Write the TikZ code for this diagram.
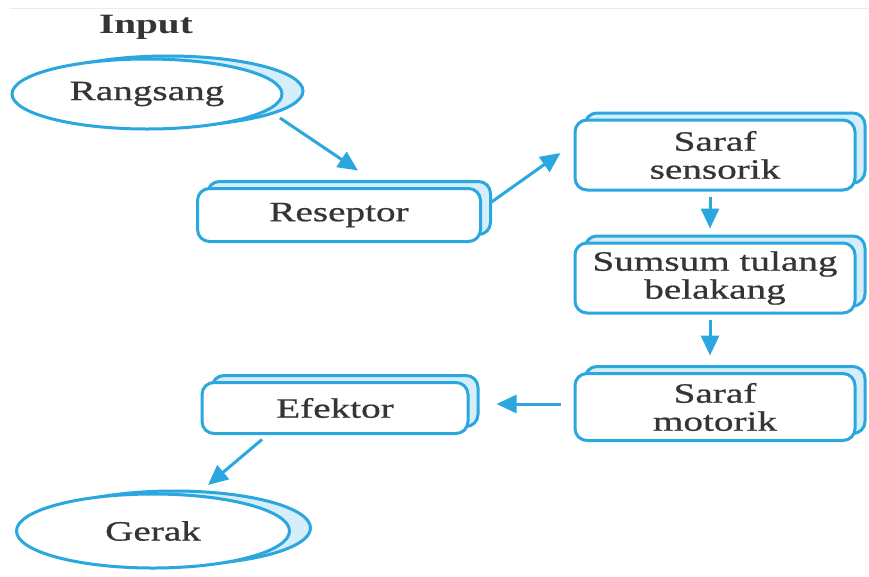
\documentclass[tikz,border=0pt]{standalone}
\usepackage{fontspec}
\setmainfont[FakeStretch=1.4, UprightFeatures={FakeBold=0.7}]{Liberation Serif}
\usetikzlibrary{shapes.geometric,shadows,arrows.meta,calc}
\definecolor{cyanb}{HTML}{2AA7DE}
\definecolor{lightb}{HTML}{D6EEF9}
\definecolor{txt}{HTML}{353535}
\begin{document}
\begin{tikzpicture}[x=1pt,y=-1pt,
  every node/.style={text=txt, font=\fontsize{28}{28}\selectfont},
  boxs/.style={draw=cyanb, line width=3pt, fill=white, rounded corners=12pt, align=center, inner sep=0pt,
    copy shadow={shadow xshift=10pt, shadow yshift=7pt, fill=lightb, draw=cyanb, line width=3pt}},
  ell/.style={ellipse, draw=cyanb, line width=3pt, fill=white, inner sep=0pt,
    copy shadow={shadow xshift=21pt, shadow yshift=3pt, fill=lightb, draw=cyanb, line width=3pt}},
  arr/.style={draw=cyanb, line width=3pt, -{Triangle[length=20pt,width=18pt]}}]
\useasboundingbox (0,0) rectangle (869,576);
\fill[white] (0,0) rectangle (869,576);
\draw[black!8, line width=1pt] (10,8) -- (869,8);
\node[font=\fontsize{28}{28}\selectfont\bfseries] (inp) at (146,27) {Input};
\node[ell, minimum width=270pt, minimum height=70pt] (rang) at (147,94) {Rangsang};
\node[boxs, minimum width=283pt, minimum height=53pt] (res) at (339,215) {Reseptor};
\node[boxs, minimum width=280pt, minimum height=70pt] (ss) at (715,155) {Saraf\\sensorik};
\node[boxs, minimum width=280pt, minimum height=70pt] (stb) at (715,278) {Sumsum tulang\\belakang};
\node[boxs, minimum width=280pt, minimum height=67pt] (sm) at (715,407) {Saraf\\motorik};
\node[boxs, minimum width=266pt, minimum height=51pt] (ef) at (335,408) {Efektor};
\node[ell, minimum width=273pt, minimum height=74pt] (ger) at (153,531) {Gerak};
\draw[arr] ($(rang.center)+(133,24)$) -- ($(res.north)+(19,-16.5)$);
\draw[arr] ($(res.east)+(9.5,-13)$) -- ($(ss.west)+(-13,-2)$);
\draw[arr] ($(ss.south)+(-5,5)$) -- ($(stb.north)+(-5,-13)$);
\draw[arr] ($(stb.south)+(-5,5)$) -- ($(sm.north)+(-5,-16.5)$);
\draw[arr] ($(sm.west)+(-13,-3)$) -- ($(ef.east)+(27,-4)$);
\draw[arr] ($(ef.south)+(-73,4.5)$) -- ($(ger.north)+(55,-7.5)$);
\end{tikzpicture}
\end{document}
